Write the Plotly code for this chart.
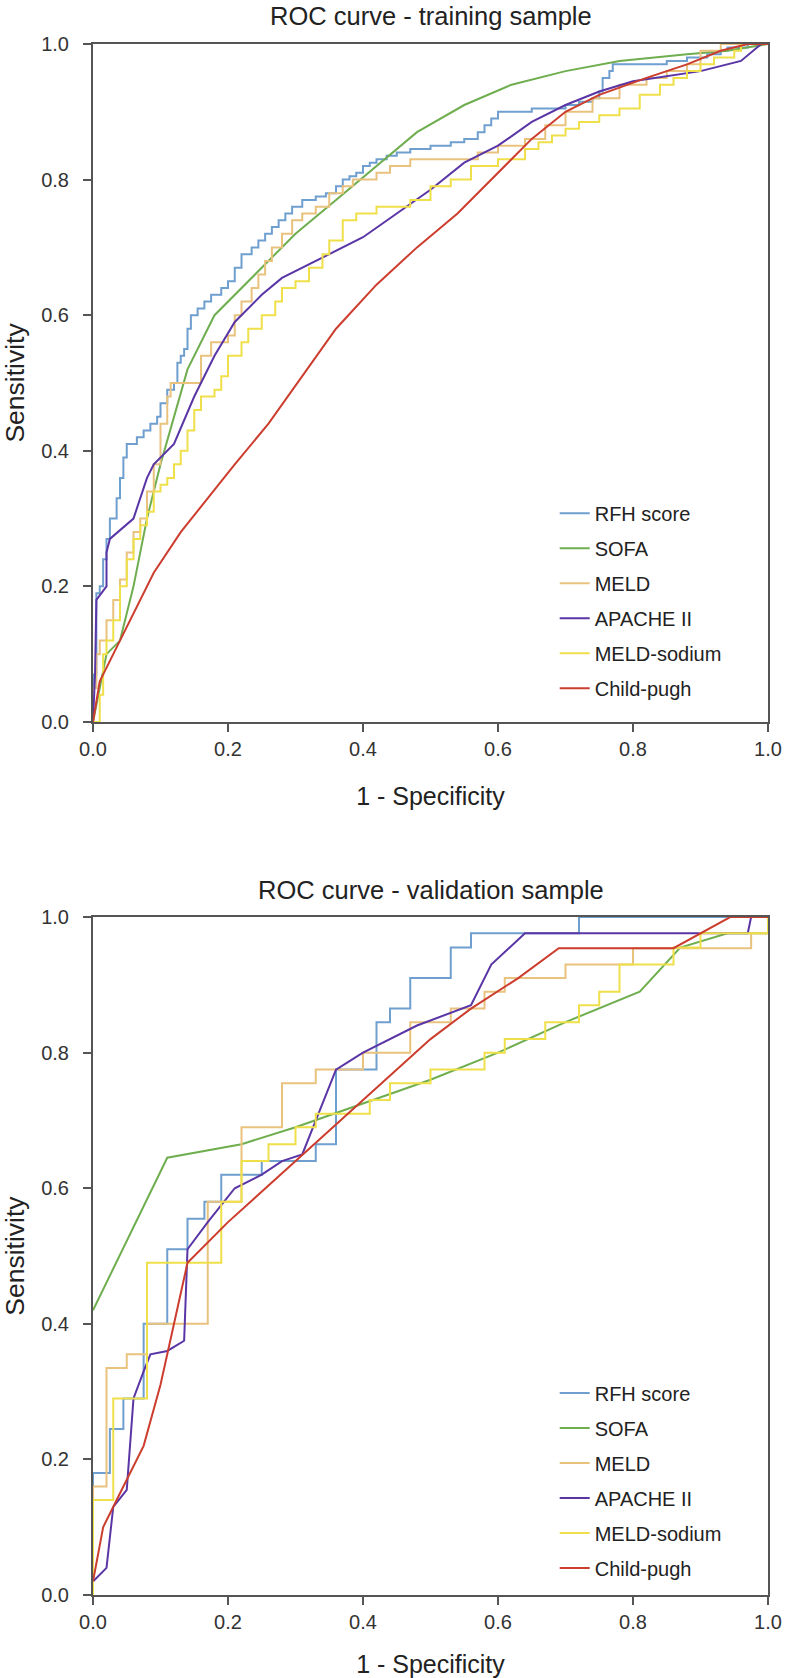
import plotly.graph_objects as go

# ---------------- data ----------------
series_names = ["RFH score", "SOFA", "MELD", "APACHE II", "MELD-sodium", "Child-pugh"]
series_colors = ["#6f9fcf", "#6fae4f", "#e9c27e", "#5a35a6", "#efe04a", "#cc3d2e"]
series_shapes = ["hv", "linear", "hv", "linear", "hv", "linear"]
tick_vals = [0.0, 0.2, 0.4, 0.6, 0.8, 1.0]
tick_text = ["0.0", "0.2", "0.4", "0.6", "0.8", "1.0"]

# training sample: (1 - specificity, sensitivity)
train_rfh = [(0,0),(0,0.07),(0.005,0.19),(0.01,0.2),(0.015,0.24),(0.02,0.27),(0.025,0.3),(0.035,0.33),
             (0.04,0.36),(0.045,0.39),(0.05,0.41),(0.065,0.42),(0.075,0.43),(0.085,0.44),(0.095,0.45),
             (0.1,0.47),(0.11,0.49),(0.12,0.5),(0.125,0.53),(0.13,0.54),(0.135,0.55),(0.14,0.58),
             (0.145,0.6),(0.155,0.61),(0.165,0.62),(0.175,0.63),(0.19,0.64),(0.2,0.65),(0.21,0.67),
             (0.22,0.69),(0.235,0.7),(0.245,0.71),(0.255,0.72),(0.265,0.73),(0.275,0.74),(0.285,0.75),
             (0.295,0.76),(0.31,0.77),(0.33,0.775),(0.345,0.78),(0.36,0.79),(0.37,0.8),(0.38,0.805),
             (0.39,0.81),(0.4,0.82),(0.41,0.825),(0.42,0.83),(0.435,0.835),(0.45,0.84),(0.47,0.845),
             (0.5,0.85),(0.53,0.855),(0.55,0.86),(0.57,0.87),(0.58,0.88),(0.59,0.89),(0.6,0.9),
             (0.65,0.905),(0.7,0.91),(0.72,0.915),(0.74,0.92),(0.75,0.93),(0.755,0.95),(0.765,0.96),
             (0.77,0.97),(0.85,0.975),(0.88,0.98),(0.91,0.985),(0.93,0.99),(0.94,0.995),(0.97,1.0),(1.0,1.0)]
train_sofa = [(0,0),(0.01,0.05),(0.02,0.1),(0.04,0.12),(0.06,0.2),(0.08,0.3),(0.1,0.38),(0.12,0.45),
              (0.14,0.52),(0.18,0.6),(0.24,0.66),(0.3,0.72),(0.36,0.77),(0.42,0.82),(0.48,0.87),
              (0.55,0.91),(0.62,0.94),(0.7,0.96),(0.78,0.975),(0.88,0.985),(0.94,0.99),(1,1)]
train_meld = [(0,0),(0,0.05),(0.005,0.1),(0.01,0.12),(0.02,0.15),(0.03,0.18),(0.04,0.21),(0.05,0.25),
              (0.06,0.28),(0.07,0.3),(0.08,0.34),(0.09,0.38),(0.1,0.44),(0.11,0.48),(0.115,0.5),
              (0.155,0.5),(0.16,0.54),(0.175,0.56),(0.2,0.57),(0.21,0.6),(0.22,0.62),(0.235,0.64),
              (0.245,0.66),(0.255,0.68),(0.265,0.7),(0.28,0.72),(0.295,0.74),(0.31,0.75),(0.33,0.76),
              (0.35,0.78),(0.37,0.79),(0.385,0.8),(0.42,0.81),(0.44,0.82),(0.47,0.83),(0.57,0.84),
              (0.6,0.85),(0.64,0.86),(0.67,0.88),(0.7,0.9),(0.74,0.92),(0.78,0.94),(0.82,0.95),
              (0.85,0.96),(0.88,0.97),(0.9,0.99),(0.93,1.0),(1,1)]
train_apache = [(0,0),(0.003,0.07),(0.005,0.18),(0.02,0.2),(0.02,0.25),(0.025,0.27),(0.06,0.3),
                (0.08,0.36),(0.09,0.38),(0.12,0.41),(0.15,0.48),(0.18,0.54),(0.21,0.59),(0.25,0.63),
                (0.28,0.655),(0.33,0.68),(0.4,0.715),(0.45,0.75),(0.5,0.785),(0.55,0.825),(0.6,0.85),
                (0.65,0.885),(0.7,0.91),(0.75,0.93),(0.8,0.945),(0.9,0.96),(0.96,0.975),(0.99,1.0),(1,1)]
train_meldna = [(0,0),(0.01,0.04),(0.015,0.1),(0.02,0.12),(0.03,0.15),(0.04,0.2),(0.05,0.24),
                (0.06,0.27),(0.07,0.29),(0.08,0.31),(0.09,0.34),(0.1,0.35),(0.11,0.36),(0.12,0.38),
                (0.13,0.4),(0.14,0.43),(0.15,0.46),(0.16,0.48),(0.18,0.49),(0.19,0.51),(0.2,0.54),
                (0.22,0.56),(0.23,0.58),(0.25,0.6),(0.27,0.62),(0.28,0.64),(0.3,0.65),(0.32,0.67),
                (0.34,0.69),(0.35,0.71),(0.37,0.74),(0.39,0.75),(0.42,0.76),(0.47,0.77),(0.5,0.79),
                (0.53,0.8),(0.56,0.82),(0.6,0.83),(0.64,0.845),(0.66,0.855),(0.68,0.865),(0.7,0.875),
                (0.72,0.885),(0.75,0.895),(0.78,0.905),(0.81,0.925),(0.84,0.94),(0.86,0.95),(0.88,0.96),
                (0.9,0.97),(0.92,0.98),(0.95,0.99),(0.96,1.0),(1,1)]
train_child = [(0,0),(0.01,0.06),(0.03,0.1),(0.06,0.16),(0.09,0.22),(0.13,0.28),(0.17,0.33),
               (0.21,0.38),(0.26,0.44),(0.31,0.51),(0.36,0.58),(0.42,0.645),(0.48,0.7),(0.54,0.75),
               (0.6,0.81),(0.65,0.86),(0.7,0.9),(0.75,0.925),(0.82,0.95),(0.88,0.97),(0.93,0.99),
               (0.97,1.0),(1,1)]

# validation sample
valid_rfh = [(0,0),(0,0.18),(0.025,0.245),(0.045,0.29),(0.075,0.4),(0.11,0.51),(0.14,0.555),
             (0.165,0.58),(0.19,0.62),(0.25,0.64),(0.33,0.665),(0.36,0.775),(0.42,0.845),
             (0.44,0.865),(0.47,0.91),(0.53,0.955),(0.56,0.976),(0.72,1.0),(1,1)]
valid_sofa = [(0,0.42),(0.11,0.645),(0.22,0.665),(0.3,0.69),(0.4,0.725),(0.5,0.76),(0.6,0.8),
              (0.7,0.845),(0.81,0.89),(0.87,0.955),(0.94,0.976),(1,0.976),(1,1)]
valid_meld = [(0,0),(0,0.16),(0.02,0.335),(0.05,0.355),(0.08,0.4),(0.17,0.58),(0.22,0.69),
              (0.28,0.755),(0.33,0.775),(0.4,0.8),(0.47,0.845),(0.53,0.865),(0.58,0.89),(0.61,0.91),
              (0.7,0.93),(0.8,0.954),(0.975,0.976),(1,1)]
valid_apache = [(0,0),(0,0.02),(0.02,0.04),(0.03,0.13),(0.05,0.155),(0.06,0.29),(0.075,0.33),
                (0.085,0.355),(0.11,0.36),(0.135,0.375),(0.14,0.51),(0.17,0.55),(0.21,0.6),
                (0.25,0.62),(0.28,0.64),(0.31,0.65),(0.36,0.775),(0.4,0.8),(0.48,0.84),(0.56,0.87),
                (0.59,0.93),(0.64,0.976),(0.97,0.976),(0.975,1.0),(1,1)]
valid_meldna = [(0,0),(0,0.14),(0.03,0.29),(0.08,0.49),(0.19,0.58),(0.22,0.64),(0.26,0.665),
                (0.3,0.69),(0.33,0.71),(0.41,0.73),(0.44,0.755),(0.5,0.775),(0.58,0.8),(0.61,0.82),
                (0.67,0.845),(0.72,0.87),(0.75,0.89),(0.78,0.93),(0.86,0.955),(0.9,0.976),(1,1)]
valid_child = [(0,0.02),(0.015,0.1),(0.04,0.15),(0.075,0.22),(0.1,0.31),(0.14,0.49),(0.2,0.55),
               (0.3,0.64),(0.4,0.73),(0.5,0.82),(0.56,0.865),(0.63,0.91),(0.69,0.954),(0.86,0.954),
               (0.944,1.0),(1,1)]

train_series = [train_rfh, train_sofa, train_meld, train_apache, train_meldna, train_child]
valid_series = [valid_rfh, valid_sofa, valid_meld, valid_apache, valid_meldna, valid_child]

panel_titles = ["ROC curve - training sample", "ROC curve - validation sample"]
x_title = "1 - Specificity"
y_title = "Sensitivity"

# ---------------- figure ----------------
FONT = "Liberation Sans, Arial, Helvetica, sans-serif"
fig = go.Figure()

for panel, (series, xa, ya, lg) in enumerate([(train_series, "x", "y", "legend"),
                                              (valid_series, "x2", "y2", "legend2")]):
    for name, color, shape, pts in zip(series_names, series_colors, series_shapes, series):
        fig.add_trace(go.Scatter(
            x=[p[0] for p in pts], y=[p[1] for p in pts],
            mode="lines", name=name,
            line=dict(color=color, width=2, shape=shape),
            xaxis=xa, yaxis=ya, legend=lg, legendgroup=f"{lg}-{name}",
            hoverinfo="skip",
        ))

axis_common = dict(
    range=[0, 1], tickvals=tick_vals, ticktext=tick_text,
    showline=True, linecolor="#555555", linewidth=2, mirror=True,
    ticks="outside", ticklen=8, tickwidth=2, tickcolor="#555555",
    showgrid=False, zeroline=False, automargin=False,
    tickfont=dict(family=FONT, size=20, color="#333333"),
)
x_title_font = dict(family=FONT, size=25, color="#222222")
y_title_font = dict(family=FONT, size=26.5, color="#222222")

top_dom = [0.5629, 1.0]
bot_dom = [0.0, 0.4371]

fig.update_layout(
    width=785, height=1678,
    margin=dict(l=93, r=17, t=44, b=83, autoexpand=False),
    paper_bgcolor="white", plot_bgcolor="white",
    font=dict(family=FONT, color="#222222"),
    xaxis=dict(domain=[0, 1], anchor="y",
               title=dict(text=x_title, standoff=29, font=x_title_font), **axis_common),
    yaxis=dict(domain=top_dom, anchor="x",
               title=dict(text=y_title, standoff=14, font=y_title_font),
               ticklabelstandoff=10, **axis_common),
    xaxis2=dict(domain=[0, 1], anchor="y2",
                title=dict(text=x_title, standoff=28, font=x_title_font), **axis_common),
    yaxis2=dict(domain=bot_dom, anchor="x2",
                title=dict(text=y_title, standoff=14, font=y_title_font),
                ticklabelstandoff=10, **axis_common),
    legend=dict(x=0.684, y=0.710, xanchor="left", yanchor="top",
                bgcolor="rgba(0,0,0,0)", font=dict(family=FONT, size=20, color="#222222"),
                tracegroupgap=6, itemwidth=30),
    legend2=dict(x=0.684, y=0.1428, xanchor="left", yanchor="top",
                 bgcolor="rgba(0,0,0,0)", font=dict(family=FONT, size=20, color="#222222"),
                 tracegroupgap=6, itemwidth=30),
    showlegend=True,
)

fig.add_annotation(text=panel_titles[0], xref="paper", yref="paper", x=0.5, y=1.0181,
                   xanchor="center", yanchor="middle", showarrow=False,
                   font=dict(family=FONT, size=25.5, color="#222222"))
fig.add_annotation(text=panel_titles[1], xref="paper", yref="paper", x=0.5, y=0.4545,
                   xanchor="center", yanchor="middle", showarrow=False,
                   font=dict(family=FONT, size=25.5, color="#222222"))

# remove the browser's default 8px page margin so the figure sits at the page origin
fig.write_html("out.html", config={"displayModeBar": False},
               post_script="document.body.style.margin='0';")
